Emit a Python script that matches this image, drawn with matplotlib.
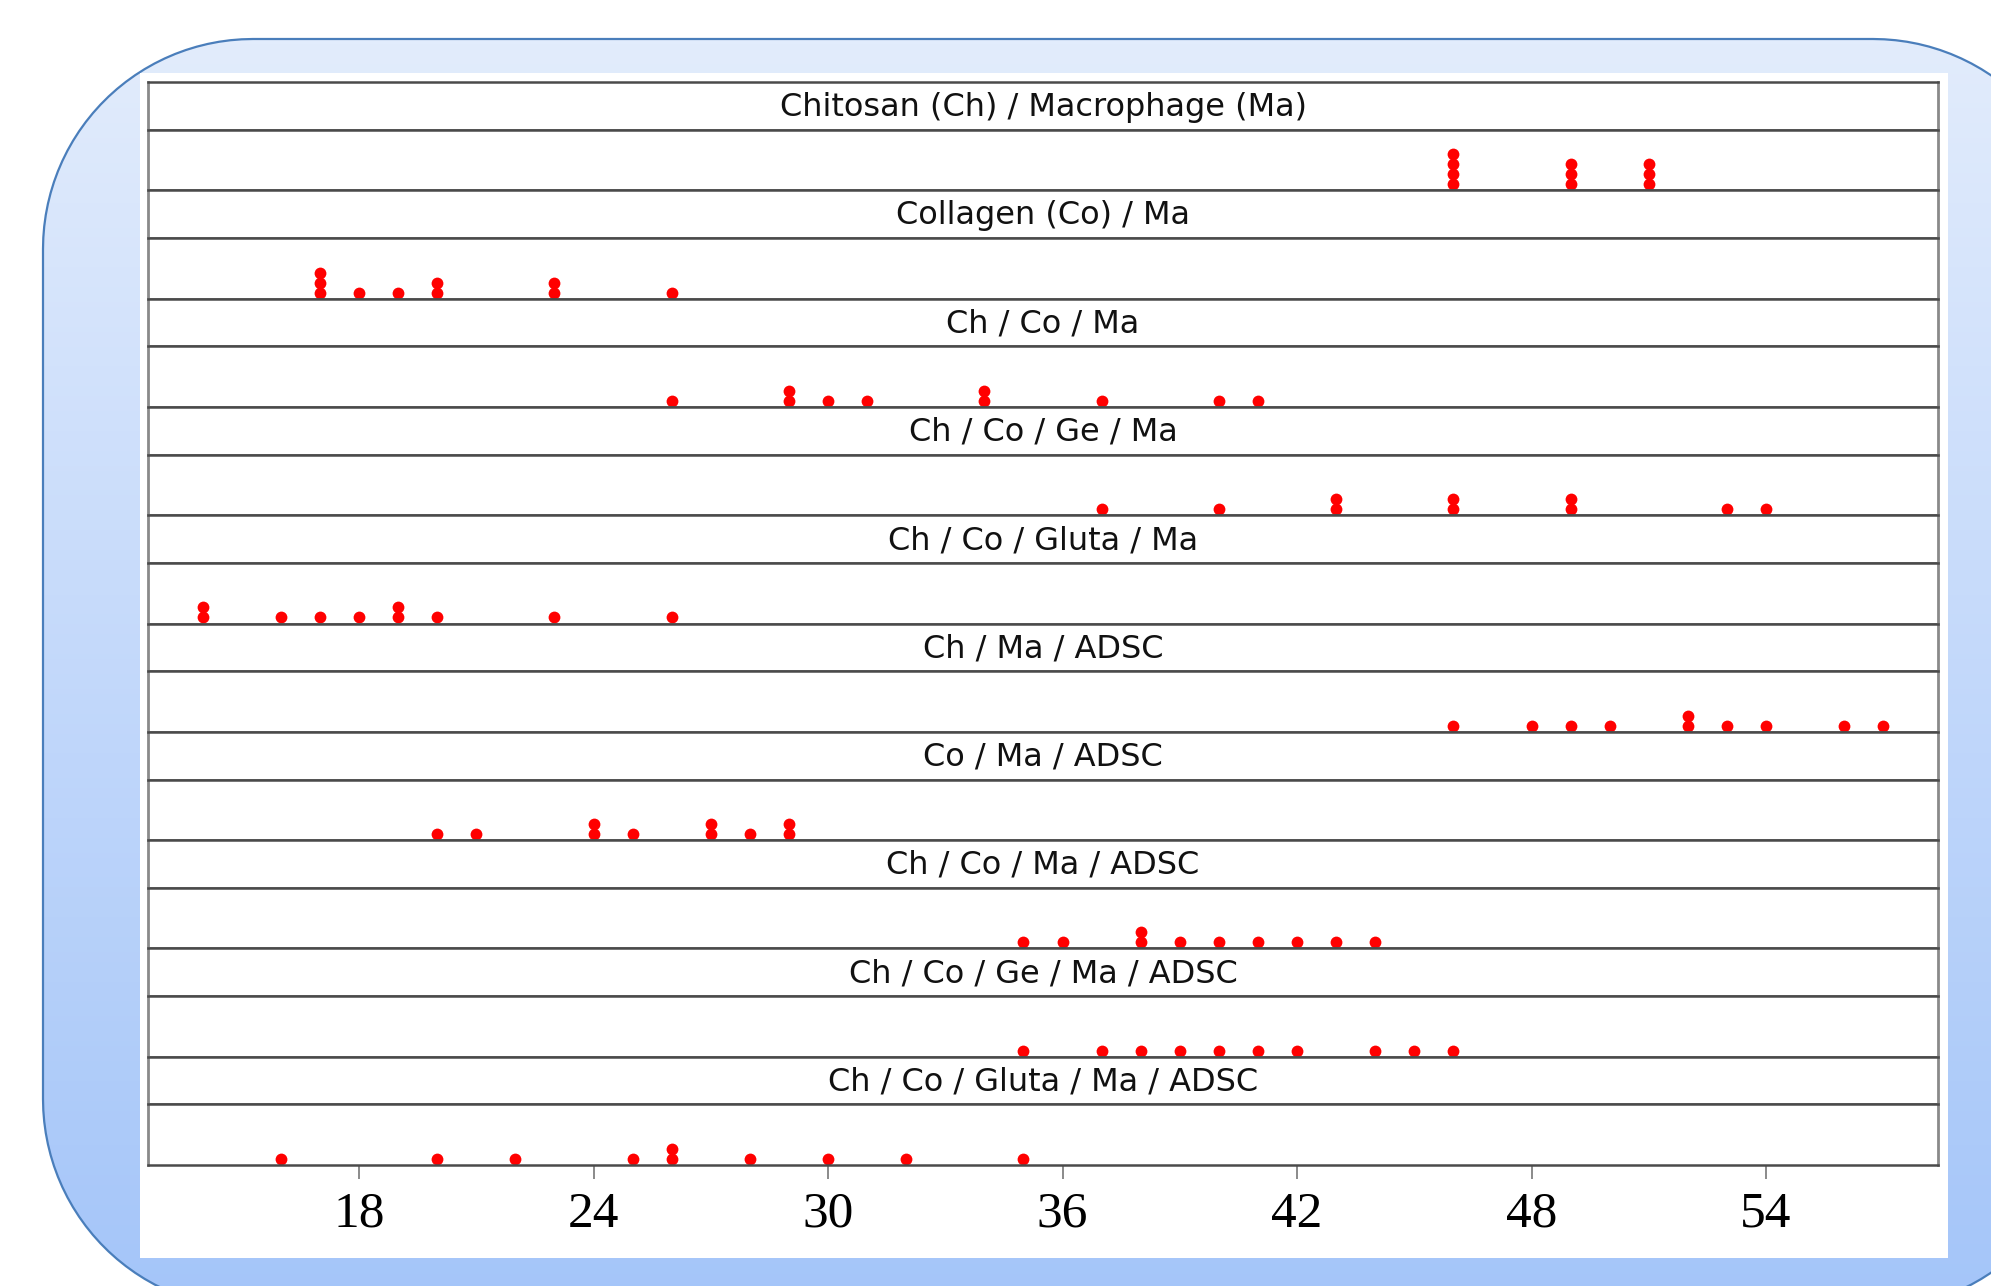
import matplotlib
matplotlib.use("Agg")
import matplotlib.pyplot as plt
import numpy as np
from matplotlib.patches import PathPatch, Rectangle
from matplotlib.path import Path

# panel titles, top to bottom
titles = ["Chitosan (Ch) / Macrophage (Ma)", "Collagen (Co) / Ma", "Ch / Co / Ma",
          "Ch / Co / Ge / Ma", "Ch / Co / Gluta / Ma", "Ch / Ma / ADSC", "Co / Ma / ADSC",
          "Ch / Co / Ma / ADSC", "Ch / Co / Ge / Ma / ADSC", "Ch / Co / Gluta / Ma / ADSC"]

# observed values in each group (repeats are stacked)
ch_ma = [46, 46, 46, 46, 49, 49, 49, 51, 51, 51]
co_ma = [17, 17, 17, 18, 19, 20, 20, 23, 23, 26]
ch_co_ma = [26, 29, 29, 30, 31, 34, 34, 37, 40, 41]
ch_co_ge_ma = [37, 40, 43, 43, 46, 46, 49, 49, 53, 54]
ch_co_gluta_ma = [14, 14, 16, 17, 18, 19, 19, 20, 23, 26]
ch_ma_adsc = [46, 48, 49, 50, 52, 52, 53, 54, 56, 57]
co_ma_adsc = [20, 21, 24, 24, 25, 27, 27, 28, 29, 29]
ch_co_ma_adsc = [35, 36, 38, 38, 39, 40, 41, 42, 43, 44]
ch_co_ge_ma_adsc = [35, 37, 38, 39, 40, 41, 42, 44, 45, 46]
ch_co_gluta_ma_adsc = [16, 20, 22, 25, 26, 26, 28, 30, 32, 35]

groups = [ch_ma, co_ma, ch_co_ma, ch_co_ge_ma, ch_co_gluta_ma,
          ch_ma_adsc, co_ma_adsc, ch_co_ma_adsc, ch_co_ge_ma_adsc, ch_co_gluta_ma_adsc]

xticks = [18, 24, 30, 36, 42, 48, 54]

W, H = 1991, 1286
fig = plt.figure(figsize=(W / 100, H / 100), dpi=100)
fig.patch.set_facecolor("white")

# background axes in pixel units (origin bottom-left)
bg = fig.add_axes([0, 0, 1, 1])
bg.axis("off")


def rounded_rect(x0, y0, x1, y1, r):
    pts = []
    for cx, cy, a0 in [(x1 - r, y1 - r, 0), (x0 + r, y1 - r, 90),
                       (x0 + r, y0 + r, 180), (x1 - r, y0 + r, 270)]:
        a = np.radians(np.linspace(a0, a0 + 90, 30))
        pts += list(zip(cx + r * np.cos(a), cy + r * np.sin(a)))
    pts.append(pts[0])
    return Path(pts, closed=True)


frame_path = rounded_rect(43, H - 1309, 2083, H - 39, 210)
frame = PathPatch(frame_path, facecolor="none", edgecolor="#4a7ebb", linewidth=1.6,
                  zorder=3, clip_on=False)
bg.add_patch(frame)
top_c = np.array([226, 236, 252]) / 255
bot_c = np.array([164, 197, 249]) / 255
t = np.linspace(0, 1, 256)[:, None]
grad = (top_c[None, :] * (1 - t) + bot_c[None, :] * t)[:, None, :]
im = bg.imshow(grad, extent=(43, 2083, H - 1309, H - 39), origin="upper",
               aspect="auto", zorder=1)
im.set_clip_path(frame)
bg.add_patch(Rectangle((140, H - 1258), 1808, 1185, facecolor="white",
                       edgecolor="none", zorder=4))
bg.set_xlim(0, W)
bg.set_ylim(0, H)

gs = fig.add_gridspec(20, 1, height_ratios=[37.6, 47.6] * 10,
                      left=148 / W, right=1938 / W, top=1 - 82 / H, bottom=1 - 1165 / H,
                      hspace=0)

first = None
for i, (title, vals) in enumerate(zip(titles, groups)):
    sax = fig.add_subplot(gs[2 * i], sharex=first)
    if first is None:
        first = sax
    dax = fig.add_subplot(gs[2 * i + 1], sharex=first)

    sax.text(0.5, 0.47, title, transform=sax.transAxes, ha="center", va="center",
             fontsize=23, color="#111111")

    # stack repeated values
    seen = {}
    ys = []
    for v in vals:
        ys.append(seen.get(v, 0))
        seen[v] = seen.get(v, 0) + 1
    dax.plot(vals, ys, "o", color="#ff0000", markersize=8.5, markeredgewidth=0)
    dax.set_ylim(-0.6, 5.45)

    for ax in (sax, dax):
        ax.set_facecolor("white")
        ax.set_yticks([])
        for s in ("left", "right"):
            ax.spines[s].set_color("#8a8a8a")
            ax.spines[s].set_linewidth(2)
        for s in ("top", "bottom"):
            ax.spines[s].set_color("#4a4a4a")
            ax.spines[s].set_linewidth(1.8)
        ax.tick_params(axis="x", bottom=False, labelbottom=False)

first.set_xlim(12.6, 58.4)
dax.set_xticks(xticks)
dax.tick_params(axis="x", bottom=True, labelbottom=True, direction="out", length=10,
                width=1.2, color="#777777", pad=9, labelsize=37)
for lab in dax.get_xticklabels():
    lab.set_family(["Liberation Serif", "DejaVu Serif"])

fig.savefig("out.png", dpi=100)
